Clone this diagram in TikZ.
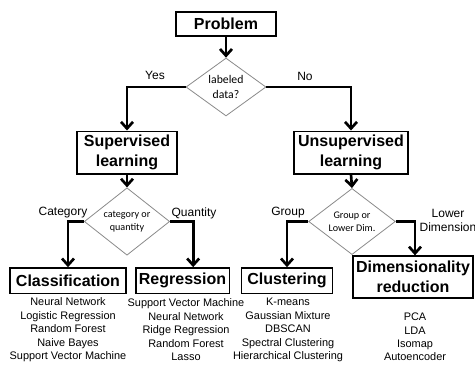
\documentclass[tikz,border=0pt]{standalone}
\usepackage{fontspec}
\setmainfont{Liberation Sans}
\newfontfamily\qfont{Carlito}
\usepackage{tikz}
\usetikzlibrary{shapes,arrows,arrows.meta,positioning,calc}
\definecolor{qgray}{HTML}{8A8A8A}

\tikzset{
    title/.style={draw=black, line width=1pt, font=\fontsize{12}{15}\selectfont\bfseries,
        align=center, inner sep=0pt},
    question/.style={diamond, draw=qgray, line width=0.6pt, inner sep=0pt, align=center,
        font=\qfont\fontsize{7.6}{9.5}\selectfont},
    branch/.style={font=\fontsize{9}{10.5}\selectfont, align=center},
    methods/.style={font=\fontsize{8.2}{10.1}\selectfont, align=center},
    flow/.style={line width=2pt, -{Straight Barb[length=5pt,width=9pt,line width=2pt]}}
}

\begin{document}
\begin{tikzpicture}[x=0.75pt, y=-0.75pt]
        \useasboundingbox (0,0) rectangle (475,365);

        % Problem and first question
        \node[title, minimum width=75pt, minimum height=18pt] (prob) at (226,24) {Problem};
        \node[question, minimum width=60pt, minimum height=38pt,
            font=\qfont\fontsize{8.8}{11}\selectfont] (lab) at (226,87) {labeled\\data?};
        \draw[flow] (prob.south) -- (lab.north);

        % Learning types
        \node[title, minimum width=75pt, minimum height=32pt] (sup) at (127,152.5) {Supervised\\learning};
        \node[title, minimum width=85.5pt, minimum height=32pt] (uns) at (351,152.5) {Unsupervised\\learning};
        \draw[flow] (lab.west) -| (sup.north);
        \draw[flow] (lab.east) -| (uns.north);
        \node[branch] (yes) at (155,75) {Yes};
        \node[branch] (no) at (305,76) {No};

        % Second level questions
        \node[question, minimum width=64pt, minimum height=40pt] (catq) at (127,221.5) {category or\\quantity};
        \node[question, minimum width=65pt, minimum height=40pt] (grpq) at (352,221.5) {Group or\\Lower Dim.};
        \draw[flow] (sup.south) -- (catq.north);
        \draw[flow] (uns.south) -- (grpq.north);

        % Tasks
        \node[title, minimum width=87pt, minimum height=19pt] (cls) at (68,280.5) {Classification};
        \node[title, minimum width=70pt, minimum height=19pt] (reg) at (182.5,280.5) {Regression};
        \node[title, minimum width=68pt, minimum height=19pt] (clu) at (287,280.5) {Clustering};
        \node[title, minimum width=90pt, minimum height=31.5pt] (dim) at (413,277) {Dimensionality\\reduction};
        \draw[flow] (catq.west) -| (cls.north);
        \draw[flow] (catq.east) -| ([xshift=8pt]reg.north);
        \draw[flow] (grpq.west) -| (clu.north);
        \draw[flow] (grpq.east) -| ([xshift=1.5pt]dim.north);
        \node[branch] (cat) at (63,213) {Category};
        \node[branch] (qty) at (194,213) {Quantity};
        \node[branch] (grp) at (288,213) {Group};
        \node[branch] (low) at (448,220) {Lower\\Dimension};

        % Methods
        \node[methods] (clsm) at (68,330) {Neural Network\\Logistic Regression\\Random Forest\\Naive Bayes\\Support Vector Machine};
        \node[methods] (regm) at (186,330) {Support Vector Machine\\Neural Network\\Ridge Regression\\Random Forest\\Lasso};
        \node[methods] (clum) at (288,330) {K-means\\Gaussian Mixture\\DBSCAN\\Spectral Clustering\\Hierarchical Clustering};
        \node[methods] (dimm) at (415,337) {PCA\\LDA\\Isomap\\Autoencoder};
    \end{tikzpicture}
\end{document}
